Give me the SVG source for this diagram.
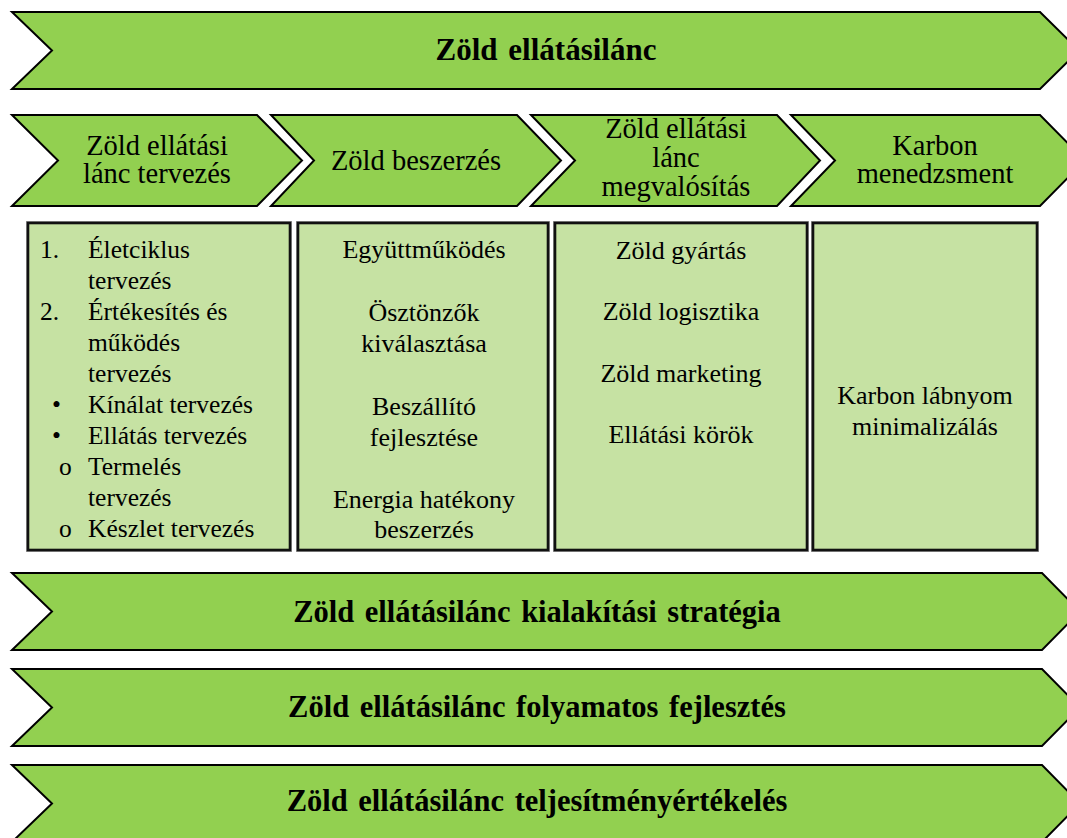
<svg xmlns="http://www.w3.org/2000/svg" width="1067" height="838" viewBox="0 0 1067 838">
  <style>
    .band { fill: #92D050; stroke: #000; stroke-width: 2; stroke-linejoin: miter; }
    .box { fill: #C6E2A3; stroke: #111; stroke-width: 2.6; }
    .halo { fill: none; stroke: #9a9a9a; stroke-width: 1; }
    .big { font-size: 30.5px; font-weight: bold; text-anchor: middle; word-spacing: 3px; }
    .title { font-size: 31px; }
    .head { font-size: 28.5px; text-anchor: middle; }
    .item { font-size: 26px; text-anchor: middle; }
    .list { font-size: 25.5px; }
  </style>

  <g font-family="Liberation Serif, Times New Roman, Tinos, DejaVu Serif, serif" fill="#000">

  <!-- top banner -->
  <g id="banner-top">
    <polygon class="band" points="12,12 1040,12 1079,50.5 1040,89 12,89 52,50.5"/>
    <text class="big title" x="546" y="60">Zöld ellátásilánc</text>
  </g>

  <!-- process chevrons -->
  <g id="step-planning">
    <polygon class="band" points="12,115 257,115 302,160.5 257,206 12,206 58,160.5"/>
    <text class="head" x="157" y="155">Zöld ellátási</text>
    <text class="head" x="157" y="183">lánc tervezés</text>
  </g>
  <g id="step-procurement">
    <polygon class="band" points="271,115 517,115 561,160.5 517,206 271,206 314,160.5"/>
    <text class="head" x="416" y="170">Zöld beszerzés</text>
  </g>
  <g id="step-implementation">
    <polygon class="band" points="531,115 777,115 820,160.5 777,206 531,206 575,160.5"/>
    <text class="head" x="676" y="138">Zöld ellátási</text>
    <text class="head" x="676" y="167">lánc</text>
    <text class="head" x="676" y="196">megvalósítás</text>
  </g>
  <g id="step-carbon">
    <polygon class="band" points="791,115 1040,115 1085,160.5 1040,206 791,206 835,160.5"/>
    <text class="head" x="935" y="155">Karbon</text>
    <text class="head" x="935" y="183">menedzsment</text>
  </g>

  <!-- content boxes -->
  <g id="box-planning">
    <rect class="halo" x="26.5" y="221.5" width="265" height="330"/>
    <rect class="box" x="28" y="223" width="262" height="327"/>
    <text class="list" x="40" y="258">1.</text>
    <text class="list" x="88" y="258">Életciklus</text>
    <text class="list" x="88" y="289">tervezés</text>
    <text class="list" x="40" y="320">2.</text>
    <text class="list" x="88" y="320">Értékesítés és</text>
    <text class="list" x="88" y="351">működés</text>
    <text class="list" x="88" y="382">tervezés</text>
    <text class="list" x="52" y="413">•</text>
    <text class="list" x="88" y="413">Kínálat tervezés</text>
    <text class="list" x="52" y="444">•</text>
    <text class="list" x="88" y="444">Ellátás tervezés</text>
    <text class="list" x="59" y="475">o</text>
    <text class="list" x="88" y="475">Termelés</text>
    <text class="list" x="88" y="506">tervezés</text>
    <text class="list" x="59" y="537">o</text>
    <text class="list" x="88" y="537">Készlet tervezés</text>
  </g>
  <g id="box-procurement">
    <rect class="halo" x="296.5" y="221.5" width="253" height="330"/>
    <rect class="box" x="298" y="223" width="250" height="327"/>
    <text class="item" x="424" y="258">Együttműködés</text>
    <text class="item" x="424" y="321">Ösztönzők</text>
    <text class="item" x="424" y="352">kiválasztása</text>
    <text class="item" x="424" y="415">Beszállító</text>
    <text class="item" x="424" y="446">fejlesztése</text>
    <text class="item" x="424" y="508">Energia hatékony</text>
    <text class="item" x="424" y="538">beszerzés</text>
  </g>
  <g id="box-implementation">
    <rect class="halo" x="553.5" y="221.5" width="255" height="330"/>
    <rect class="box" x="555" y="223" width="252" height="327"/>
    <text class="item" x="681" y="259">Zöld gyártás</text>
    <text class="item" x="681" y="320">Zöld logisztika</text>
    <text class="item" x="681" y="382">Zöld marketing</text>
    <text class="item" x="681" y="443">Ellátási körök</text>
  </g>
  <g id="box-carbon">
    <rect class="halo" x="811.5" y="221.5" width="227" height="330"/>
    <rect class="box" x="813" y="223" width="224" height="327"/>
    <text class="item" x="925" y="404">Karbon lábnyom</text>
    <text class="item" x="925" y="435">minimalizálás</text>
  </g>

  <!-- strategy banners -->
  <g id="banner-strategy">
    <polygon class="band" points="12,573 1042,573 1080,611.5 1042,650 12,650 52,611.5"/>
    <text class="big" x="537" y="622">Zöld ellátásilánc kialakítási stratégia</text>
  </g>
  <g id="banner-improvement">
    <polygon class="band" points="12,669 1042,669 1080,707.5 1042,746 12,746 52,707.5"/>
    <text class="big" x="537" y="717">Zöld ellátásilánc folyamatos fejlesztés</text>
  </g>
  <g id="banner-performance">
    <polygon class="band" points="12,765 1042,765 1080,803.5 1042,842 12,842 52,803.5"/>
    <text class="big" x="537" y="811">Zöld ellátásilánc teljesítményértékelés</text>
  </g>

  </g>
</svg>
